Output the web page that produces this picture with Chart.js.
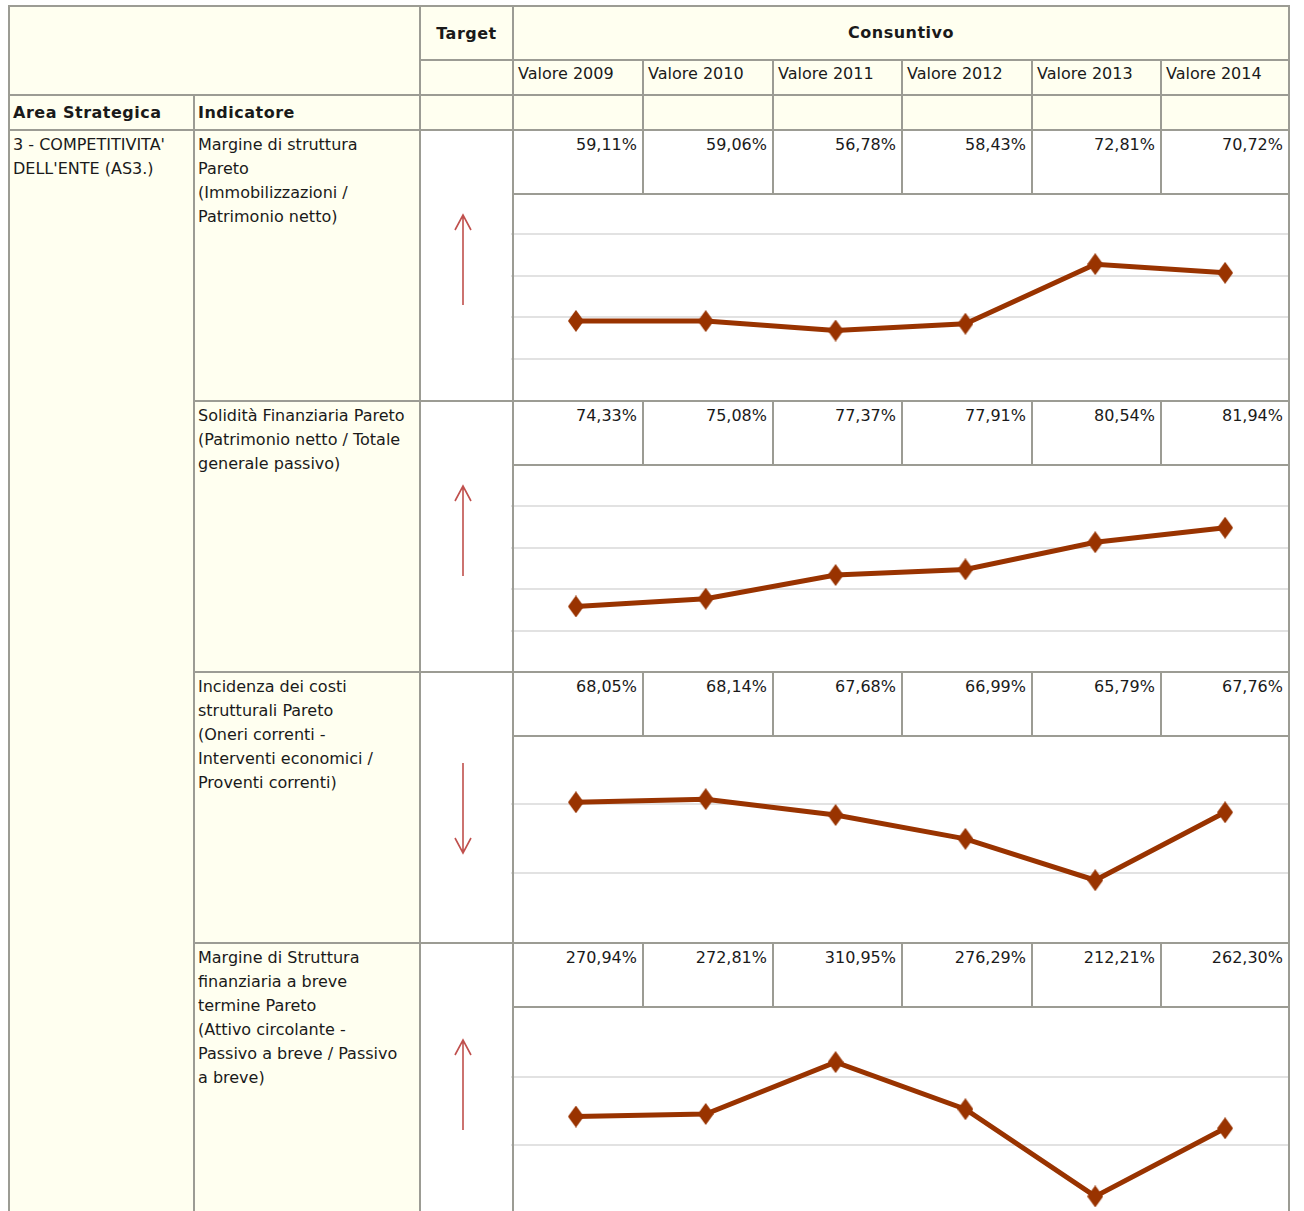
<!DOCTYPE html>
<html lang="it">
<head>
<meta charset="utf-8">
<title>Competitività dell'ente - indicatori</title>
<script src="https://cdn.jsdelivr.net/npm/chart.js@4.4.1/dist/chart.umd.min.js"></script>
<style>
  html, body { margin: 0; padding: 0; background: #ffffff; overflow: hidden; }
  body { width: 1304px; height: 1211px; position: relative; font-family: "DejaVu Sans", Verdana, sans-serif; font-size: 16px; color: #1a1a1a; }
  .box { position: absolute; }
  .cream { background: #fffff0; }
  .white { background: #ffffff; }
  .line { position: absolute; background: #9c9c94; z-index: 20; }
  .txt { position: absolute; line-height: 24px; white-space: nowrap; z-index: 10; }
  .bold { font-weight: bold; letter-spacing: 0.5px; }
  .center { display: flex; align-items: center; justify-content: center; }
  .val { text-align: right; }
  .chartbox { position: absolute; z-index: 5; }
  .arrow { position: absolute; z-index: 6; }
</style>
</head>
<body>
<script>
// ---- data ----
const years = ['2009', '2010', '2011', '2012', '2013', '2014'];
const yearHeaders = years.map(y => 'Valore ' + y);

const margineStruttura    = [59.11, 59.06, 56.78, 58.43, 72.81, 70.72];
const soliditaFinanziaria = [74.33, 75.08, 77.37, 77.91, 80.54, 81.94];
const incidenzaCosti      = [68.05, 68.14, 67.68, 66.99, 65.79, 67.76];
const margineBreve        = [270.94, 272.81, 310.95, 276.29, 212.21, 262.30];

const axisMin  = [40, 68, 64, 200];
const axisMax  = [90, 88, 70, 350];
const axisStep = [10, 4, 2, 50];

const indicatorLabels = [
  ['Margine di struttura', 'Pareto', '(Immobilizzazioni /', 'Patrimonio netto)'],
  ['Solidità Finanziaria Pareto', '(Patrimonio netto / Totale', 'generale passivo)'],
  ['Incidenza dei costi', 'strutturali Pareto', '(Oneri correnti -', 'Interventi economici /', 'Proventi correnti)'],
  ['Margine di Struttura', 'finanziaria a breve', 'termine Pareto', '(Attivo circolante -', 'Passivo a breve / Passivo', 'a breve)']
];
const targetDirection = ['up', 'up', 'down', 'up'];
const areaLabel = ["3 - COMPETITIVITA'", "DELL'ENTE (AS3.)"];

const seriesList = [margineStruttura, soliditaFinanziaria, incidenzaCosti, margineBreve];

// ---- layout grid ----
const colX = [8, 193, 419, 512, 642, 772, 901, 1031, 1160, 1288];
const blockTop = [129, 400, 671, 942];      // top of each indicator block
const chartTop = [193, 465, 735, 1009];     // plot area top for each chart
const chartH = [207, 207, 207, 204];        // plot area height for each chart
const arrowTop = [211, 482, 759, 1036];     // target arrow box top
const valueH = 64;                          // height of the value row
const LW = 2;

function el(cls, x, y, w, h, html) {
  const d = document.createElement('div');
  d.className = cls;
  d.style.left = x + 'px'; d.style.top = y + 'px';
  if (w != null) d.style.width = w + 'px';
  if (h != null) d.style.height = h + 'px';
  if (html != null) d.innerHTML = html;
  document.body.appendChild(d);
  return d;
}
function hline(x1, x2, y) { el('line', x1, y, x2 - x1 + LW, LW); }
function vline(x, y1, y2) { el('line', x, y1, LW, y2 - y1 + LW); }

// backgrounds
el('box cream', 8, 5, 1282, 124);
el('box cream', 8, 129, 411, 1100);
el('box white', 419, 129, 871, 1100);

// header texts
el('txt bold center', 421, 8, 91, 52, 'Target');
el('txt bold center', 514, 7, 774, 52, 'Consuntivo');
yearHeaders.forEach((t, i) => el('txt', colX[i + 3] + 6, 62, null, null, t));
el('txt bold', 13, 101, null, null, 'Area Strategica');
el('txt bold', 198, 101, null, null, 'Indicatore');
el('txt', 13, 133, null, null, areaLabel.join('<br>'));

// borders: outer frame and header structure
hline(8, 1288, 5);
hline(419, 1288, 59);
hline(8, 1288, 94);
hline(8, 1288, 129);
vline(8, 5, 1230);
vline(1288, 5, 1230);
vline(419, 5, 1230);
vline(512, 5, 1230);
vline(193, 94, 1230);
for (let c = 4; c <= 8; c++) vline(colX[c], 59, 129);

// value formatter (Italian decimal comma)
const fmt = v => v.toFixed(2).replace('.', ',') + '%';

// diamond marker
function diamond(color) {
  const c = document.createElement('canvas');
  c.width = 16; c.height = 22;
  const g = c.getContext('2d');
  g.fillStyle = color;
  g.beginPath();
  g.moveTo(8, 0); g.lineTo(16, 11); g.lineTo(8, 22); g.lineTo(0, 11);
  g.closePath(); g.fill();
  return c;
}
const marker = diamond('#993300');

// arrow in the target column
function arrow(x, y, dir) {
  const ns = 'http://www.w3.org/2000/svg';
  const svg = document.createElementNS(ns, 'svg');
  svg.setAttribute('width', 30); svg.setAttribute('height', 100);
  svg.setAttribute('class', 'arrow');
  svg.style.left = (x - 15) + 'px'; svg.style.top = y + 'px';
  const p = document.createElementNS(ns, 'path');
  const d = dir === 'up'
    ? 'M15 4 L15 94 M7 19 L15 4 L23 19'
    : 'M15 4 L15 94 M7 79 L15 94 L23 79';
  p.setAttribute('d', d);
  p.setAttribute('stroke', '#c0504d');
  p.setAttribute('stroke-width', '1.6');
  p.setAttribute('fill', 'none');
  svg.appendChild(p);
  document.body.appendChild(svg);
}

seriesList.forEach((series, k) => {
  const top = blockTop[k];
  // indicator description
  el('txt', 198, top + 4, null, null, indicatorLabels[k].join('<br>'));
  // values
  series.forEach((v, i) => {
    el('txt val', colX[i + 3] + 2, top + 4, colX[i + 4] - colX[i + 3] - 7, null, fmt(v));
  });
  // borders for this block
  if (k > 0) hline(193, 1288, top);
  hline(512, 1288, top + valueH);
  for (let c = 4; c <= 8; c++) vline(colX[c], top, top + valueH);

  // target arrow
  arrow(463, arrowTop[k], targetDirection[k]);

  // chart
  const wrap = el('chartbox', 511, chartTop[k], 779, chartH[k]);
  const cv = document.createElement('canvas');
  wrap.appendChild(cv);

  const lo = axisMin[k], hi = axisMax[k];
  new Chart(cv, {
    type: 'line',
    data: {
      labels: years,
      datasets: [{
        data: series,
        borderColor: '#993300',
        backgroundColor: '#993300',
        borderWidth: 5,
        pointStyle: marker,
        pointRadius: 10,
        pointHoverRadius: 10,
        tension: 0,
        clip: false
      }]
    },
    options: {
      responsive: true,
      maintainAspectRatio: false,
      animation: false,
      events: [],
      layout: { padding: 0, autoPadding: false },
      plugins: { legend: { display: false }, tooltip: { enabled: false } },
      scales: {
        x: { display: false, offset: true },
        y: {
          min: lo, max: hi,
          ticks: { display: false, stepSize: axisStep[k] },
          border: { display: false },
          grid: {
            drawTicks: false,
            tickLength: 0,
            lineWidth: 2,
            color: ctx => (ctx.tick && (ctx.tick.value === lo || ctx.tick.value === hi)) ? 'rgba(0,0,0,0)' : '#e2e2e2'
          },
          afterFit: s => { s.width = 0; }
        }
      }
    }
  });
});
</script>
</body>
</html>
